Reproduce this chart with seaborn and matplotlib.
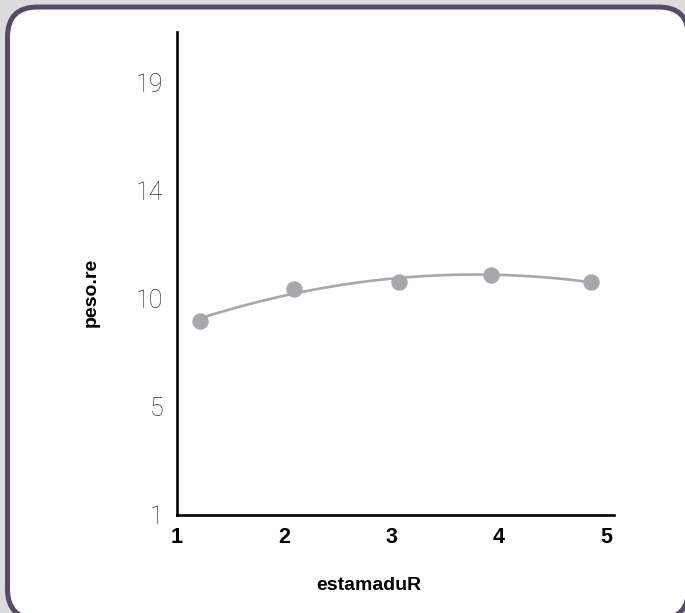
import matplotlib
matplotlib.use("Agg")
import matplotlib.pyplot as plt
from matplotlib.patches import FancyBboxPatch
import numpy as np
import pandas as pd
import seaborn as sns

# Ripeness stage vs. weight
estamadur = [1.21, 2.09, 3.07, 3.93, 4.86]
peso_re = [9.09, 10.42, 10.71, 11.00, 10.71]
x_ticks = [1, 2, 3, 4, 5]
y_ticks = [1, 5.5, 10, 14.5, 19]
y_tick_labels = ["1", "5", "10", "14", "19"]

df = pd.DataFrame({"estamaduR": estamadur, "peso.re": peso_re})

sns.set_theme(style="white")
plt.rcParams["font.family"] = ["Liberation Sans", "DejaVu Sans"]

narrow = ["Liberation Sans Narrow", "Liberation Sans", "DejaVu Sans"]
light = ["Roboto", "Lato", "DejaVu Sans"]

fig = plt.figure(figsize=(6.85, 6.13), dpi=100, facecolor="#dcdcdc")

# Rounded card behind the chart
card = FancyBboxPatch((0.075, -0.06), 6.81, 6.12,
                      boxstyle="round,pad=0,rounding_size=0.3",
                      transform=fig.dpi_scale_trans,
                      facecolor="white", edgecolor="#554b69",
                      linewidth=3.6, zorder=-10)
fig.patches.append(card)

ax = fig.add_axes([0.2584, 0.1599, 0.638, 0.788])
ax.patch.set_visible(False)

mark = "#a8a8ac"
sns.regplot(data=df, x="estamaduR", y="peso.re", order=2, ci=None,
            truncate=True, ax=ax,
            scatter_kws=dict(s=140, color=mark, alpha=1, linewidths=0, zorder=4),
            line_kws=dict(color=mark, linewidth=1.9, zorder=3))

ax.set_xlim(1, 5.075)
ax.set_ylim(1, 21.1)

ax.set_xticks(x_ticks)
ax.set_xticklabels([str(t) for t in x_ticks], family=narrow,
                   fontweight="bold", fontsize=15.5, color="black")
ax.set_yticks(y_ticks)
ax.set_yticklabels(y_tick_labels, family=light, fontweight="light",
                   fontsize=18, color="#333333")
ax.tick_params(axis="x", length=0, pad=9)
ax.tick_params(axis="y", length=0, pad=10)

for side in ("top", "right"):
    ax.spines[side].set_visible(False)
for side in ("left", "bottom"):
    ax.spines[side].set_color("black")
    ax.spines[side].set_linewidth(1.9)

ax.set_xlabel("estamaduR", family=narrow, fontweight="bold",
              fontsize=14, color="black")
ax.set_ylabel("peso.re", family=narrow, fontweight="bold",
              fontsize=14, color="black")
ax.xaxis.set_label_coords(0.44, -0.128)
ax.yaxis.set_label_coords(-0.178, 0.46)

fig.savefig("out.png", dpi=100, facecolor=fig.get_facecolor())
